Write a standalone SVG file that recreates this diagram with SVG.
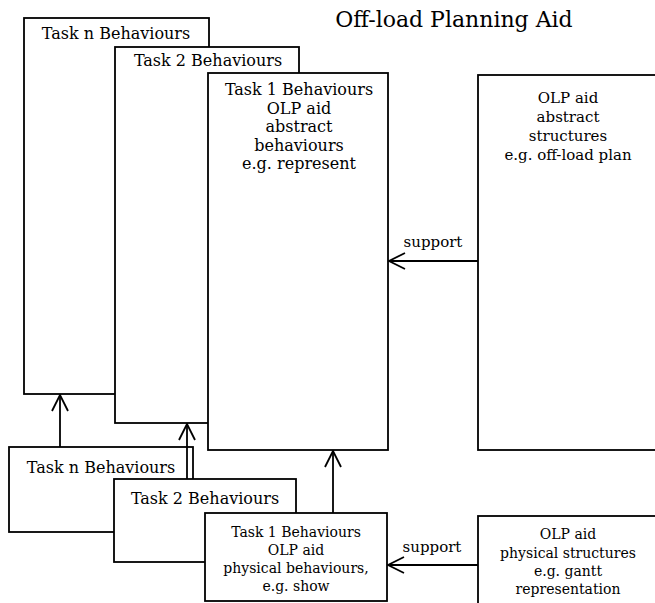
<svg xmlns="http://www.w3.org/2000/svg" width="655" height="603" viewBox="0 0 655 603">
<defs>
<style>
.box{fill:#fff;stroke:#000;stroke-width:1.8}
.t{font-family:"DejaVu Serif","Liberation Serif",serif;fill:#000;text-anchor:middle}
.b16{font-size:16px}
.b15{font-size:15px}
.b14{font-size:14px}
.ln{stroke:#000;stroke-width:1.8;fill:none}
</style>
<marker id="ah" viewBox="0 0 20 20" refX="19" refY="10" markerWidth="20" markerHeight="20" markerUnits="userSpaceOnUse" orient="auto">
<path d="M3,2 L19,10 L3,18" fill="none" stroke="#000" stroke-width="1.8"/>
</marker>
</defs>
<rect width="655" height="603" fill="#fff"/>
<text class="t" x="454" y="27" style="font-size:22px">Off-load Planning Aid</text>
<g id="task-n-abstract">
<rect class="box" x="24" y="18" width="185" height="376"/>
<text class="t b16" x="116" y="39">Task n Behaviours</text>
</g>
<g id="task-2-abstract">
<rect class="box" x="115" y="47" width="184" height="376"/>
<text class="t b16" x="208" y="66">Task 2 Behaviours</text>
</g>
<g id="task-1-abstract">
<rect class="box" x="208" y="73" width="180" height="377"/>
<text class="t b16" x="299" y="95">Task 1 Behaviours</text>
<text class="t b16" x="299" y="113.5">OLP aid</text>
<text class="t b16" x="299" y="132">abstract</text>
<text class="t b16" x="299" y="150.5">behaviours</text>
<text class="t b16" x="299" y="169">e.g. represent</text>
</g>
<g id="olp-abstract">
<rect class="box" x="478" y="75" width="190" height="375"/>
<text class="t b15" x="568" y="103">OLP aid</text>
<text class="t b15" x="568" y="122">abstract</text>
<text class="t b15" x="568" y="141">structures</text>
<text class="t b15" x="568" y="160">e.g. off-load plan</text>
</g>
<g id="task-n-physical">
<rect class="box" x="9" y="447" width="184" height="85"/>
<text class="t b16" x="101" y="473">Task n Behaviours</text>
</g>
<g id="task-2-physical">
<rect class="box" x="114" y="479" width="182" height="83"/>
<text class="t b16" x="205" y="504">Task 2 Behaviours</text>
</g>
<g id="task-1-physical">
<rect class="box" x="205" y="513" width="182" height="88"/>
<text class="t b14" x="296" y="537">Task 1 Behaviours</text>
<text class="t b14" x="296" y="555">OLP aid</text>
<text class="t b14" x="296" y="573">physical behaviours,</text>
<text class="t b14" x="296" y="591">e.g. show</text>
</g>
<g id="olp-physical">
<rect class="box" x="478" y="516" width="190" height="100"/>
<text class="t b14" x="568" y="539">OLP aid</text>
<text class="t b14" x="568" y="558">physical structures</text>
<text class="t b14" x="568" y="576">e.g. gantt</text>
<text class="t b14" x="568" y="594">representation</text>
</g>
<g id="connectors">
<line class="ln" x1="60" y1="447" x2="60" y2="395" marker-end="url(#ah)"/>
<line class="ln" x1="187" y1="479" x2="187" y2="424" marker-end="url(#ah)"/>
<line class="ln" x1="333" y1="513" x2="333" y2="451" marker-end="url(#ah)"/>
<line class="ln" x1="478" y1="261" x2="389" y2="261" marker-end="url(#ah)"/>
<line class="ln" x1="478" y1="565" x2="388" y2="565" marker-end="url(#ah)"/>
<text class="t b15" x="433" y="247">support</text>
<text class="t b15" x="432" y="552">support</text>
</g>
</svg>
